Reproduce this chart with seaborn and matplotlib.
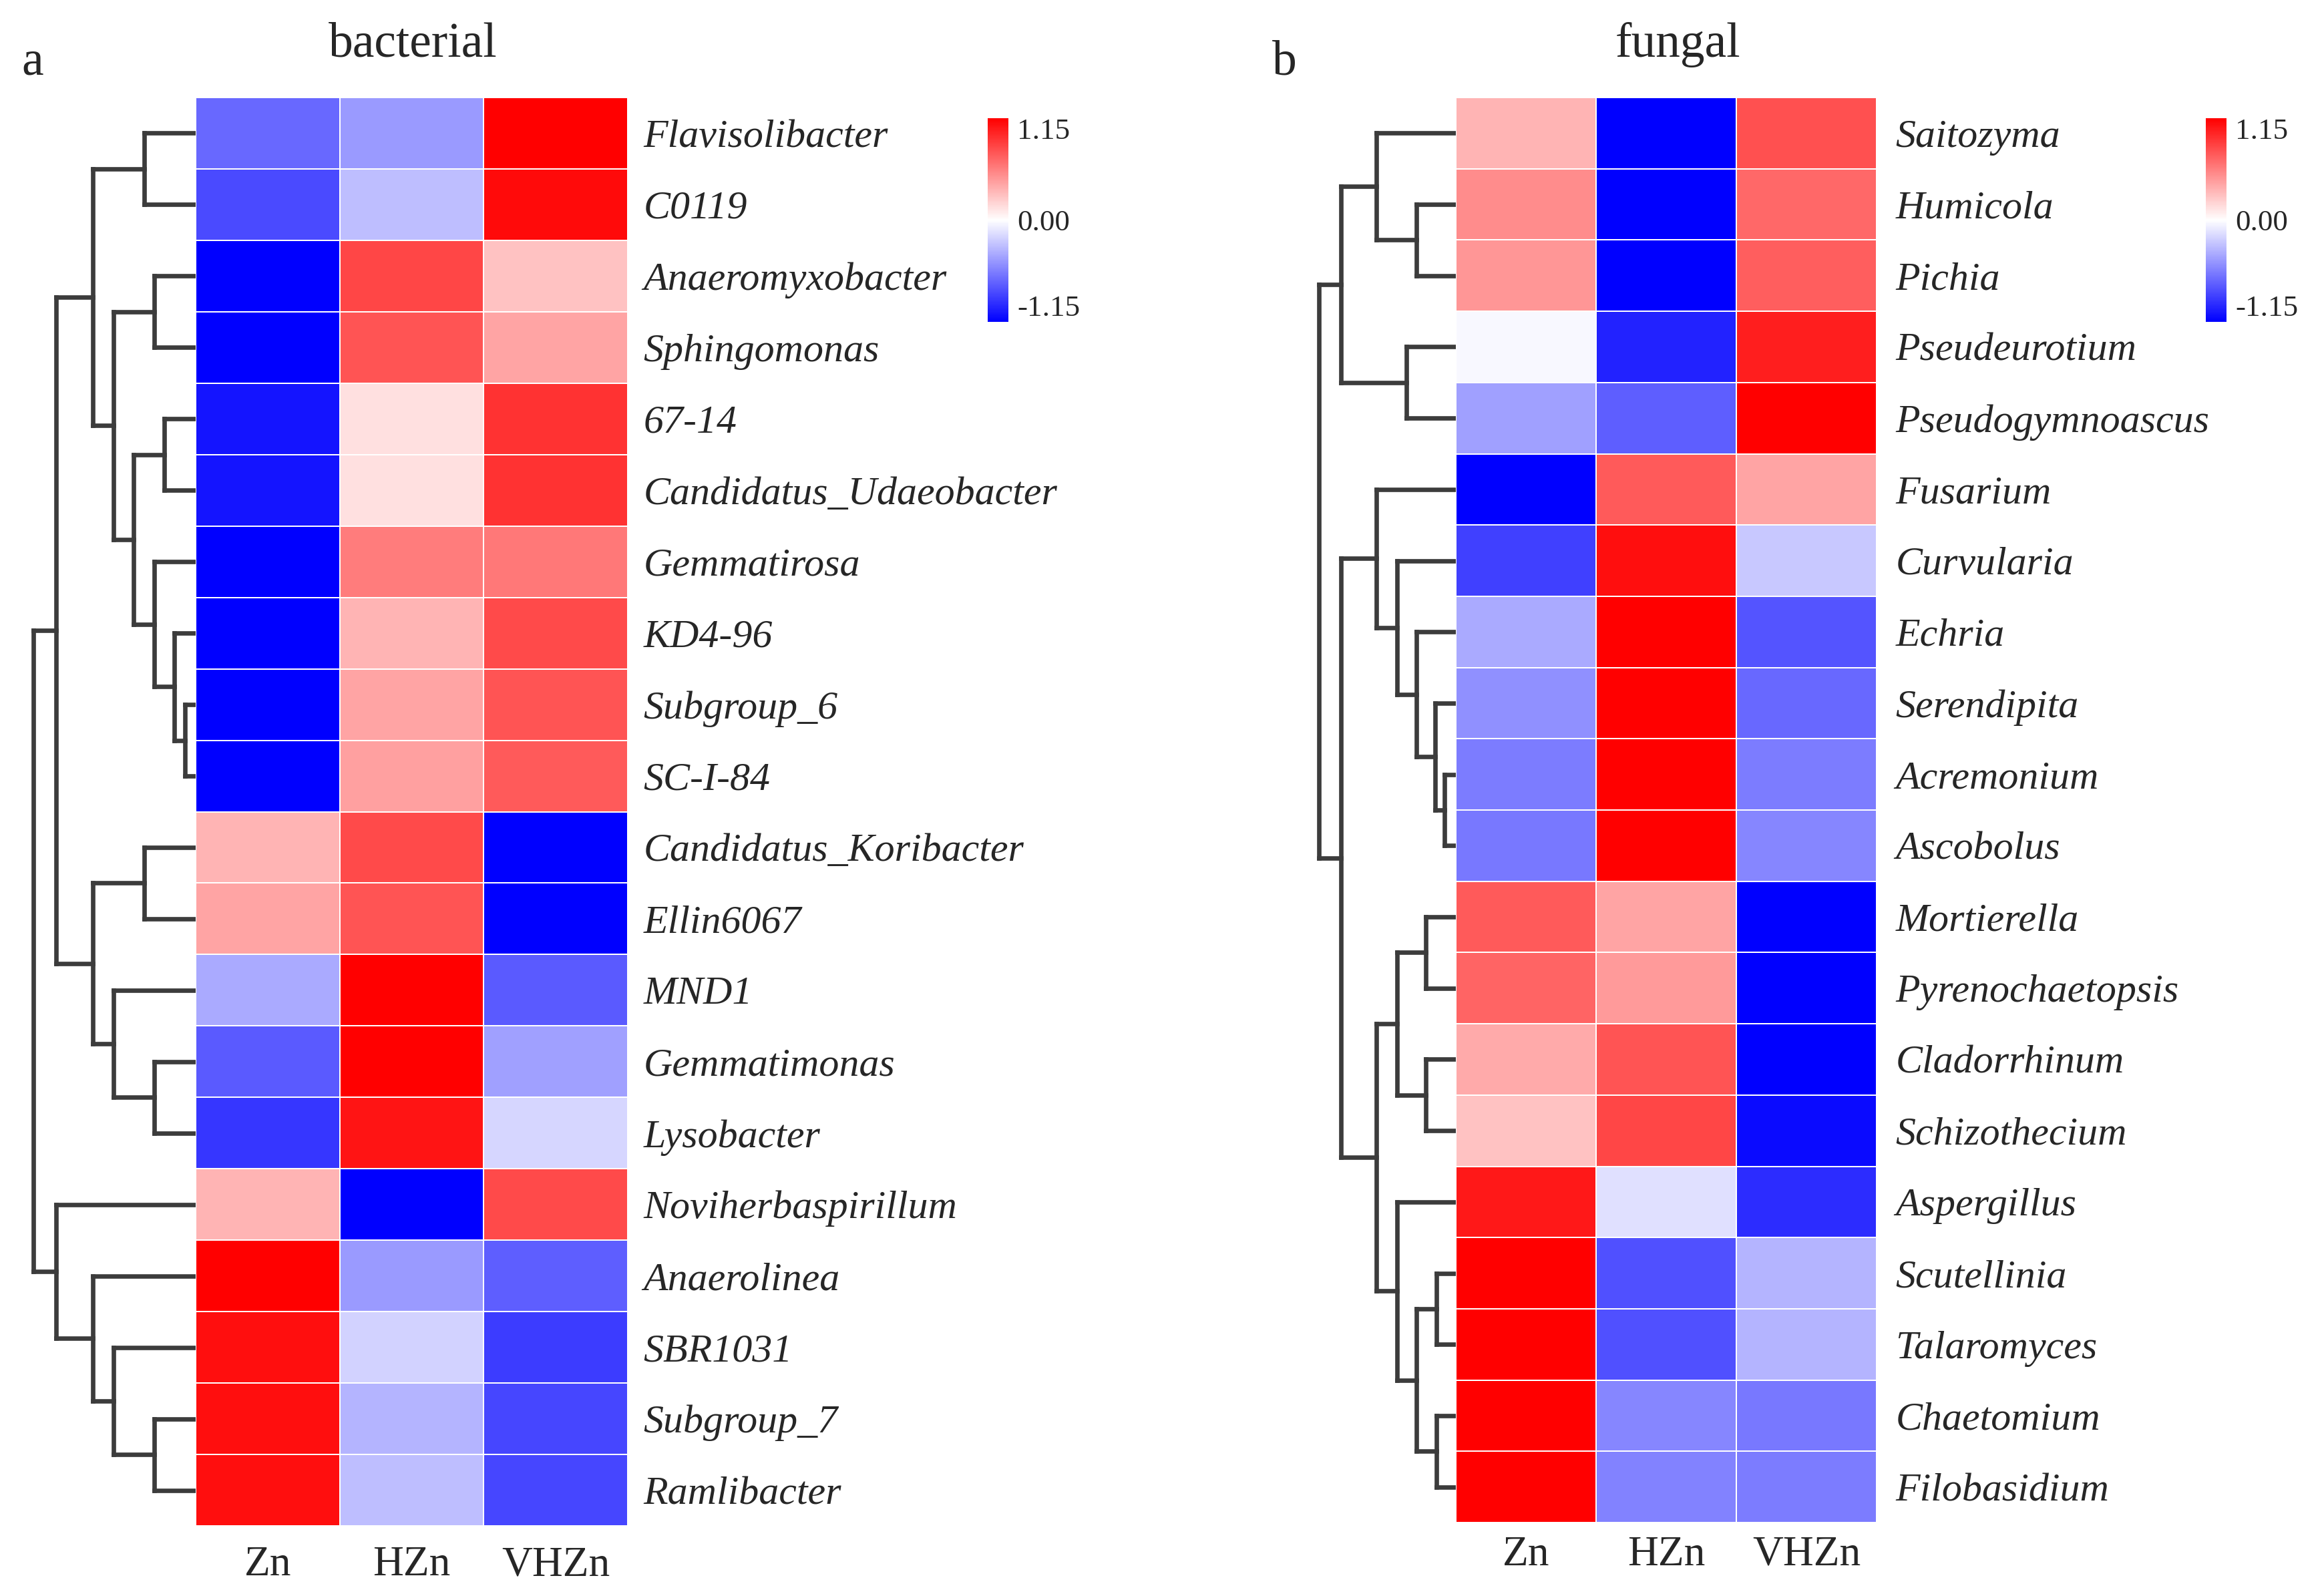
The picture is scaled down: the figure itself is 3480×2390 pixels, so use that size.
import numpy as np
import pandas as pd
import seaborn as sns
import matplotlib.pyplot as plt
from matplotlib.colors import LinearSegmentedColormap

sns.set_theme(style="white")
plt.rcParams['font.family'] = ['Liberation Serif', 'DejaVu Serif']

groups = ["Zn", "HZn", "VHZn"]

# bacterial genera (row order as shown) and scaled abundances
bact_names = ["Flavisolibacter", "C0119", "Anaeromyxobacter", "Sphingomonas", "67-14",
              "Candidatus_Udaeobacter", "Gemmatirosa", "KD4-96", "Subgroup_6", "SC-I-84",
              "Candidatus_Koribacter", "Ellin6067", "MND1", "Gemmatimonas", "Lysobacter",
              "Noviherbaspirillum", "Anaerolinea", "SBR1031", "Subgroup_7", "Ramlibacter"]
bact_zn = [-0.68, -0.81, -1.15, -1.15, -1.06, -1.06, -1.15, -1.15, -1.15, -1.15,
           0.34, 0.41, -0.38, -0.74, -0.90, 0.34, 1.15, 1.08, 1.08, 1.08]
bact_hzn = [-0.45, -0.29, 0.83, 0.77, 0.14, 0.14, 0.59, 0.34, 0.41, 0.43,
            0.81, 0.77, 1.15, 1.15, 1.06, -1.15, -0.45, -0.20, -0.34, -0.29]
bact_vhzn = [1.15, 1.10, 0.27, 0.41, 0.92, 0.92, 0.61, 0.81, 0.77, 0.74,
             -1.15, -1.15, -0.74, -0.43, -0.18, 0.81, -0.72, -0.88, -0.83, -0.83]

# fungal genera
fung_names = ["Saitozyma", "Humicola", "Pichia", "Pseudeurotium", "Pseudogymnoascus",
              "Fusarium", "Curvularia", "Echria", "Serendipita", "Acremonium",
              "Ascobolus", "Mortierella", "Pyrenochaetopsis", "Cladorrhinum", "Schizothecium",
              "Aspergillus", "Scutellinia", "Talaromyces", "Chaetomium", "Filobasidium"]
fung_zn = [0.34, 0.52, 0.47, -0.03, -0.43, -1.15, -0.86, -0.38, -0.50, -0.59,
           -0.61, 0.74, 0.70, 0.38, 0.27, 1.04, 1.15, 1.15, 1.15, 1.15]
fung_hzn = [-1.15, -1.15, -1.15, -0.99, -0.72, 0.74, 1.08, 1.15, 1.15, 1.15,
            1.15, 0.41, 0.45, 0.77, 0.83, -0.14, -0.79, -0.79, -0.54, -0.56]
fung_vhzn = [0.79, 0.68, 0.72, 1.01, 1.15, 0.41, -0.25, -0.77, -0.68, -0.59,
             -0.54, -1.15, -1.15, -1.15, -1.10, -0.95, -0.34, -0.34, -0.61, -0.59]

# row dendrograms: (height, left, right), leaves are row indices
bact_tree = (243,
             (209,
              (154, (77, 0, 1),
               (123, (62, 2, 3),
                (93, (47, 4, 5), (62, 6, (32, 7, (16, 8, 9)))))),
              (154, (77, 10, 11), (123, 12, (62, 13, 14)))),
             (209, 15, (154, 16, (123, 17, (62, 18, 19)))))

fung_tree = (205,
             (172, (119, 0, (59, 1, 2)), (74, 3, 4)),
             (172,
              (119, 5, (88, 6, (59, 7, (31, 8, (17, 9, 10))))),
              (119, (88, (45, 11, 12), (45, 13, 14)),
               (88, 15, (59, (29, 16, 17), (29, 18, 19))))))

cmap = LinearSegmentedColormap.from_list("bwr_pure", ["#0000FF", "#FFFFFF", "#FF0000"])

W, H = 3480, 2390
fig = plt.figure(figsize=(W / 240, H / 240), dpi=240)


def box(x0, y0, x1, y1):
    return [x0 / W, 1 - y1 / H, (x1 - x0) / W, (y1 - y0) / H]


def draw_tree(ax, node):
    # returns (y, height) of this node
    if isinstance(node, int):
        return node + 0.5, 0
    h, left, right = node
    yl, hl = draw_tree(ax, left)
    yr, hr = draw_tree(ax, right)
    kw = dict(color="#3c3c3c", lw=2.0, solid_capstyle="projecting")
    ax.plot([hl, h], [yl, yl], **kw)
    ax.plot([hr, h], [yr, yr], **kw)
    ax.plot([h, h], [yl, yr], **kw)
    return (yl + yr) / 2, h


def panel(names, zn, hzn, vhzn, tree, hm_box, dendro_left, cb_box, ypad, xpad):
    df = pd.DataFrame({"Zn": zn, "HZn": hzn, "VHZn": vhzn}, index=names)[groups]
    ax = fig.add_axes(box(*hm_box))
    cax = fig.add_axes(box(*cb_box))
    sns.heatmap(df, ax=ax, cmap=cmap, vmin=-1.15, vmax=1.15, linewidths=0.6,
                linecolor="white", cbar_ax=cax, yticklabels=True)
    ax.yaxis.tick_right()
    ax.set_yticklabels(names, rotation=0, fontstyle="italic", fontsize=18)
    ax.set_xticklabels(groups, rotation=0, fontsize=19)
    ax.tick_params(axis="y", length=0, pad=ypad)
    ax.tick_params(axis="x", length=0, pad=xpad)
    ax.set_xlabel("")
    ax.set_ylabel("")

    cax.set_yticks([-1.15, 0, 1.15])
    cax.set_yticklabels(["-1.15", "0.00", "1.15"], fontsize=13.5)
    labs = cax.get_yticklabels()
    labs[0].set_va("bottom")
    labs[2].set_va("top")
    cax.tick_params(length=0, pad=4)
    for s in cax.spines.values():
        s.set_visible(False)

    dx0, dy0, dx1, dy1 = hm_box
    dax = fig.add_axes(box(dendro_left, dy0, dx0, dy1))
    draw_tree(dax, tree)
    dax.set_xlim(dx0 - dendro_left, 0)
    dax.set_ylim(len(names), 0)
    dax.axis("off")
    return ax


panel(bact_names, bact_zn, bact_hzn, bact_vhzn, bact_tree,
      (293, 146, 940, 2285), 40, (1479, 177, 1510, 482), 7, 9)
panel(fung_names, fung_zn, fung_hzn, fung_vhzn, fung_tree,
      (2180, 146, 2810, 2280), 1960, (3303, 177, 3334, 482), 8.5, 6)

fig.text(618 / W, 1 - 67 / H, "bacterial", fontsize=22, ha="center", va="center")
fig.text(2513 / W, 1 - 67 / H, "fungal", fontsize=22, ha="center", va="center")
fig.text(49 / W, 1 - 94 / H, "a", fontsize=22, ha="center", va="center")
fig.text(1923 / W, 1 - 94 / H, "b", fontsize=22, ha="center", va="center")

fig.savefig("out.png", dpi=240, facecolor="white")
